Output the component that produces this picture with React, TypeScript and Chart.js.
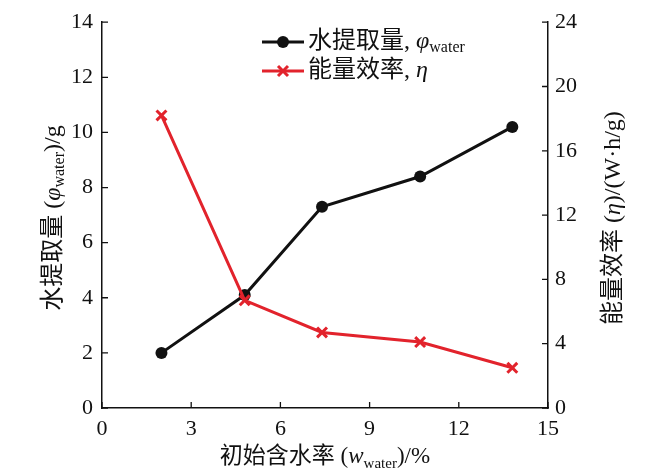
import { useEffect, useRef } from 'react';
import { Chart, registerables, Plugin } from 'chart.js';

Chart.register(...registerables);

const waterContent = [2.0, 4.8, 7.4, 10.7, 13.8];
const waterExtracted = [2.0, 4.1, 7.3, 8.4, 10.2];
const energyEfficiency = [18.2, 6.7, 4.7, 4.1, 2.5];

const xTicks = [0, 3, 6, 9, 12, 15];
const leftTicks = [0, 2, 4, 6, 8, 10, 12, 14];
const rightTicks = [0, 4, 8, 12, 16, 20, 24];

const FONT = "'Liberation Serif', 'Noto Sans CJK SC', serif";
const RED = '#e2232c';
const BLACK = '#111111';

type Run = { t: string; it?: boolean; sub?: boolean };

// draw a row of text pieces, some italic / subscript
function drawRuns(ctx: CanvasRenderingContext2D, runs: Run[], x: number, y: number, size: number, align: 'left' | 'center') {
  const fontFor = (r: Run) => `${r.it ? 'italic ' : ''}${r.sub ? Math.round(size * 0.66) : size}px ${FONT}`;
  const widths = runs.map((r) => {
    ctx.font = fontFor(r);
    return ctx.measureText(r.t).width;
  });
  const total = widths.reduce((a, b) => a + b, 0);
  let cx = align === 'center' ? x - total / 2 : x;
  const base = y + size * 0.36;
  ctx.fillStyle = BLACK;
  ctx.textAlign = 'left';
  ctx.textBaseline = 'alphabetic';
  runs.forEach((r, i) => {
    ctx.font = fontFor(r);
    ctx.fillText(r.t, cx, r.sub ? base + size * 0.2 : base);
    cx += widths[i];
  });
}

const decorations: Plugin<'line'> = {
  id: 'decorations',
  afterDraw(chart) {
    const ctx = chart.ctx;
    const { left, right, top, bottom } = chart.chartArea;
    const sx = chart.scales.x;
    const sy = chart.scales.y;
    const sy1 = chart.scales.y1;
    ctx.save();

    // inward tick marks
    ctx.strokeStyle = BLACK;
    ctx.lineWidth = 1.3;
    ctx.beginPath();
    xTicks.forEach((v) => {
      const px = sx.getPixelForValue(v);
      ctx.moveTo(px, bottom);
      ctx.lineTo(px, bottom - 6);
    });
    leftTicks.forEach((v) => {
      const py = sy.getPixelForValue(v);
      ctx.moveTo(left, py);
      ctx.lineTo(left + 6, py);
    });
    rightTicks.forEach((v) => {
      const py = sy1.getPixelForValue(v);
      ctx.moveTo(right, py);
      ctx.lineTo(right - 6, py);
    });
    ctx.stroke();

    // axis titles
    const midY = (top + bottom) / 2 + 3;
    drawRuns(ctx, [{ t: '初始含水率 (' }, { t: 'w', it: true }, { t: 'water', sub: true }, { t: ')/%' }], (left + right) / 2, 455, 23, 'center');

    ctx.save();
    ctx.translate(51, midY);
    ctx.rotate(-Math.PI / 2);
    drawRuns(ctx, [{ t: '水提取量 (' }, { t: 'φ', it: true }, { t: 'water', sub: true }, { t: ')/g' }], 0, 0, 24, 'center');
    ctx.restore();

    ctx.save();
    ctx.translate(611, midY);
    ctx.rotate(-Math.PI / 2);
    drawRuns(ctx, [{ t: '能量效率 (' }, { t: 'η', it: true }, { t: ')/(W·h/g)' }], 0, 0, 24, 'center');
    ctx.restore();

    // legend
    const lx0 = 262;
    const lx1 = 304;
    const rows: { color: string; y: number; runs: Run[]; cross: boolean }[] = [
      { color: BLACK, y: 42, runs: [{ t: '水提取量, ' }, { t: 'φ', it: true }, { t: 'water', sub: true }], cross: false },
      { color: RED, y: 71, runs: [{ t: '能量效率, ' }, { t: 'η', it: true }], cross: true },
    ];
    rows.forEach((row) => {
      ctx.strokeStyle = row.color;
      ctx.fillStyle = row.color;
      ctx.lineWidth = 3;
      ctx.beginPath();
      ctx.moveTo(lx0, row.y);
      ctx.lineTo(lx1, row.y);
      ctx.stroke();
      const mx = (lx0 + lx1) / 2;
      if (row.cross) {
        ctx.beginPath();
        ctx.moveTo(mx - 5, row.y - 5);
        ctx.lineTo(mx + 5, row.y + 5);
        ctx.moveTo(mx - 5, row.y + 5);
        ctx.lineTo(mx + 5, row.y - 5);
        ctx.stroke();
      } else {
        ctx.beginPath();
        ctx.arc(mx, row.y, 6, 0, Math.PI * 2);
        ctx.fill();
      }
      drawRuns(ctx, row.runs, lx1 + 4, row.y - 3, 24, 'left');
    });

    ctx.restore();
  },
};

const tickFont = { family: FONT, size: 22 };

const App = () => {
  const canvasRef = useRef<HTMLCanvasElement | null>(null);

  useEffect(() => {
    if (!canvasRef.current) return;
    const chart = new Chart(canvasRef.current, {
      type: 'line',
      data: {
        datasets: [
          {
            label: '水提取量',
            data: waterContent.map((x, i) => ({ x, y: waterExtracted[i] })),
            yAxisID: 'y',
            borderColor: BLACK,
            backgroundColor: BLACK,
            borderWidth: 3,
            pointStyle: 'circle',
            pointRadius: 6,
            pointBorderWidth: 0,
            order: 1,
          },
          {
            label: '能量效率',
            data: waterContent.map((x, i) => ({ x, y: energyEfficiency[i] })),
            yAxisID: 'y1',
            borderColor: RED,
            backgroundColor: RED,
            borderWidth: 3,
            pointStyle: 'crossRot',
            pointRadius: 7,
            pointBorderWidth: 3,
            order: 0,
          },
        ],
      },
      options: {
        animation: false,
        responsive: true,
        maintainAspectRatio: false,
        layout: { padding: { top: 13.5, left: 0, right: 0, bottom: 0 } },
        plugins: { legend: { display: false }, tooltip: { enabled: false } },
        scales: {
          x: {
            type: 'linear',
            min: 0,
            max: 15,
            afterBuildTicks: (s) => {
              s.ticks = xTicks.map((value) => ({ value }));
            },
            afterFit: (s) => {
              s.height = 68;
            },
            grid: { display: false, drawTicks: false },
            border: { display: true, color: BLACK, width: 1.5 },
            ticks: { color: BLACK, font: tickFont, padding: 8, maxRotation: 0 },
          },
          y: {
            type: 'linear',
            position: 'left',
            min: 0,
            max: 14,
            afterBuildTicks: (s) => {
              s.ticks = leftTicks.map((value) => ({ value }));
            },
            afterFit: (s) => {
              s.width = 102;
            },
            grid: { display: false, drawTicks: false },
            border: { display: true, color: BLACK, width: 1.5 },
            ticks: { color: BLACK, font: tickFont, padding: 9 },
          },
          y1: {
            type: 'linear',
            position: 'right',
            min: 0,
            max: 24,
            afterBuildTicks: (s) => {
              s.ticks = rightTicks.map((value) => ({ value }));
            },
            afterFit: (s) => {
              s.width = 102;
            },
            grid: { display: false, drawTicks: false },
            border: { display: true, color: BLACK, width: 1.5 },
            ticks: { color: BLACK, font: tickFont, padding: 7 },
          },
        },
      },
      plugins: [decorations],
    });
    return () => {
      chart.destroy();
    };
  }, []);

  return (
    <div style={{ position: 'absolute', left: 0, top: 0, width: 650, height: 476, background: '#fff' }}>
      <canvas ref={canvasRef} />
    </div>
  );
};

export default App;
